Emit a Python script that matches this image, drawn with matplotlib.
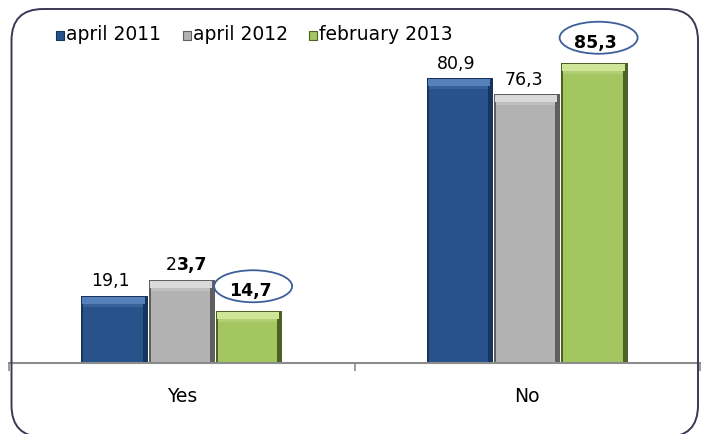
import matplotlib.pyplot as plt
from matplotlib.patches import FancyBboxPatch, Ellipse
import numpy as np

categories = ["Yes", "No"]
series = ["april 2011", "april 2012", "february 2013"]
values = {
    "april 2011": [19.1, 80.9],
    "april 2012": [23.7, 76.3],
    "february 2013": [14.7, 85.3],
}
# face, dark edge, light bevel
colors = {
    "april 2011": ("#27528a", "#17345c", "#5580ba"),
    "april 2012": ("#b2b2b2", "#5f5f5f", "#dadada"),
    "february 2013": ("#a4c660", "#4e6124", "#cfe597"),
}
circled = "february 2013"

W, H = 703, 434
fig = plt.figure(figsize=(W / 100, H / 100), dpi=100)
ax = fig.add_axes([9 / W, 1 - 363 / H, 691 / W, 352 / H])
ax.set_xlim(-0.5, 1.5)
ax.set_ylim(0, 100)

# pixel sizes in data units
px_x = 2.0 / 691
px_y = 100.0 / 352

bar_w = 0.195
x = np.arange(len(categories))
label_font = dict(fontsize=12.5, family="DejaVu Sans")

for i, name in enumerate(series):
    face, dark, light = colors[name]
    xs = x + (i - 1) * bar_w
    vals = np.array(values[name])
    # outer dark shell
    ax.bar(xs, vals, width=bar_w - 1 * px_x, color=dark, zorder=2)
    # light top bevel
    ax.bar(xs - 1 * px_x, 7 * px_y, bottom=vals - 8 * px_y, width=bar_w - 5 * px_x,
           color=light, zorder=3)
    # main face, dark band on the right
    ax.bar(xs - 1.5 * px_x, vals - 8 * px_y, width=bar_w - 8 * px_x, color=face, zorder=4)
    # softer shading under the top bevel
    ax.bar(xs - 1.5 * px_x, 3 * px_y, bottom=vals - 11 * px_y, width=bar_w - 8 * px_x,
           color=light, alpha=0.35, zorder=5)

    for xi, v in zip(xs, vals):
        txt = f"{v:.1f}".replace(".", ",")
        if name == circled:
            ax.text(xi + 1 * px_x, v + 20 * px_y, txt, ha="center", va="center",
                    fontweight="bold", **label_font)
            ax.add_patch(Ellipse((xi + 4 * px_x, v + 25 * px_y), 78 * px_x, 32 * px_y,
                                 fill=False, edgecolor="#3c5f99", lw=1.3, zorder=6,
                                 clip_on=False))
        elif name == "april 2012" and v == 23.7:
            t1 = ax.text(xi - 0.03, v + 1.5, txt[0], ha="center", va="bottom", **label_font)
            ax.annotate(txt[1:], xy=(1, 0), xycoords=t1, ha="left", va="bottom",
                        fontweight="bold", **label_font)
        else:
            ax.text(xi - 0.01, v + 1.5, txt, ha="center", va="bottom", **label_font)

# axes styling
for s in ["top", "right", "left"]:
    ax.spines[s].set_visible(False)
ax.spines["bottom"].set_color("#8c8c8c")
ax.spines["bottom"].set_linewidth(1.5)
ax.spines["bottom"].set_zorder(7)
ax.set_yticks([])
ax.set_xticks([-0.5, 0.5, 1.5])
ax.set_xticklabels([])
ax.tick_params(axis="x", length=6, width=1.2, color="#8c8c8c")
for xi, c in zip(x, categories):
    ax.text(xi, -33 * px_y, c, ha="center", va="center", fontsize=13.5)

# legend
lx = [56, 183, 309]
for px, name in zip(lx, series):
    face, dark, light = colors[name]
    fig.patches.append(plt.Rectangle((px / W, 1 - 40 / H), 8 / W, 9 / H, facecolor=face,
                                     edgecolor=dark, lw=0.8, transform=fig.transFigure))
    fig.text((px + 10) / W, 1 - 35 / H, name, ha="left", va="center", fontsize=13.5)

# rounded frame
frame = FancyBboxPatch((11.5 / W, 1 - 437 / H), 686.5 / W, 428 / H,
                       boxstyle="round,pad=0,rounding_size=0.045",
                       transform=fig.transFigure, fill=False, edgecolor="#3d3656",
                       lw=1.4, mutation_aspect=W / H, clip_on=False)
fig.patches.append(frame)

fig.savefig("out.png", dpi=100)
